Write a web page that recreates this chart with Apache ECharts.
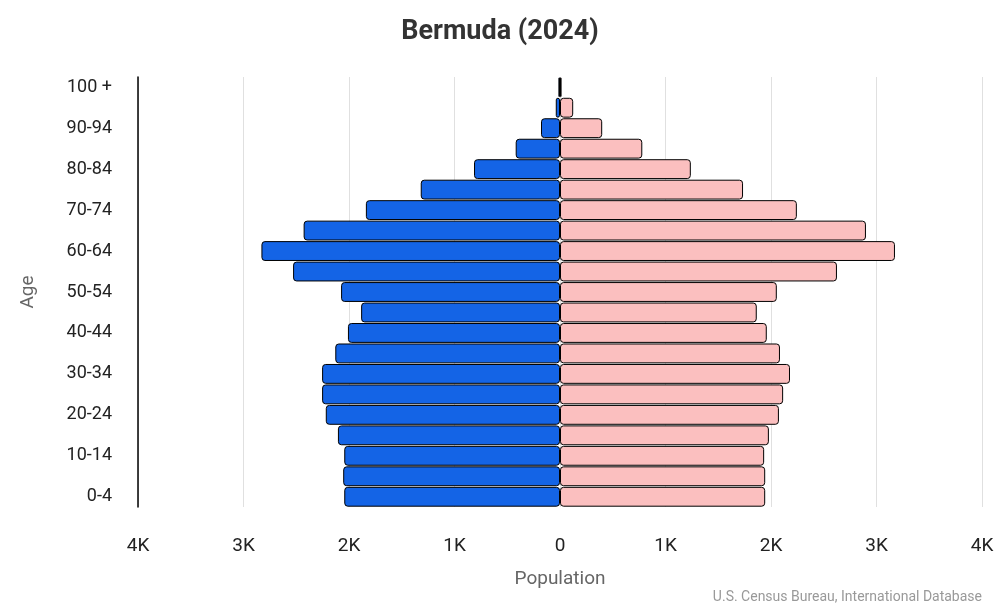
<!DOCTYPE html>
<html><head><meta charset="utf-8">
<script src="https://cdn.jsdelivr.net/npm/echarts@6/dist/echarts.min.js"></script>
<style>html,body{margin:0;background:#fff}#c{width:1000px;height:612px}</style>
</head><body><div id="c"></div>
<script>
const ages = ['0-4','5-9','10-14','15-19','20-24','25-29','30-34','35-39','40-44','45-49','50-54','55-59','60-64','65-69','70-74','75-79','80-84','85-89','90-94','95-99','100 +'];
const male = [2045,2055,2045,2105,2220,2255,2255,2130,2010,1885,2075,2530,2830,2430,1840,1320,815,420,180,40,15];
const female = [1945,1945,1935,1980,2075,2115,2180,2085,1960,1865,2055,2625,3175,2900,2245,1735,1240,780,400,125,15];
const xTicks = {'-4000':'4K','-3000':'3K','-2000':'2K','-1000':'1K','0':'0','1000':'1K','2000':'2K','3000':'3K','4000':'4K'};

const chart = echarts.init(document.getElementById('c'));
chart.setOption({
  title: { text: 'Bermuda (2024)', left: 'center', top: 14,
    textStyle: { fontFamily: 'Roboto', fontSize: 27, fontWeight: 'bold', color: '#333' } },
  grid: { left: 138, right: 18, top: 77, bottom: 105 },
  xAxis: {
    type: 'value', min: -4000, max: 4000, interval: 1000,
    name: 'Population', nameLocation: 'middle', nameGap: 63,
    nameTextStyle: { fontFamily: 'Roboto', fontSize: 19, color: '#666' },
    axisLine: { show: false }, axisTick: { show: false },
    axisLabel: { margin: 30, fontFamily: 'Roboto', fontSize: 19, color: '#222',
      formatter: v => xTicks[String(v)] },
    splitLine: { lineStyle: { color: '#e0e0e0' } }
  },
  yAxis: {
    type: 'category', data: ages,
    name: 'Age', nameLocation: 'middle', nameGap: 100, nameRotate: 90,
    nameTextStyle: { fontFamily: 'Roboto', fontSize: 19, color: '#666' },
    axisLine: { onZero: false, lineStyle: { color: '#000', width: 1.5 } },
    axisTick: { show: false },
    axisLabel: { fontFamily: 'Roboto', fontSize: 18, color: '#222', margin: 26 }
  },
  series: [
    { type: 'bar', data: male.map(v => -v), barCategoryGap: '3%', barGap: '-100%',
      itemStyle: { color: '#1464e6', borderColor: '#000', borderWidth: 1, borderRadius: 3 } },
    { type: 'bar', data: female, barCategoryGap: '3%', barGap: '-100%',
      itemStyle: { color: '#fbbfbf', borderColor: '#000', borderWidth: 1, borderRadius: 3 } }
  ],
  graphic: [{ type: 'text', right: 18, bottom: 8,
    style: { text: 'U.S. Census Bureau, International Database', font: '14px Roboto', fill: '#999' } }]
});
</script></body></html>
